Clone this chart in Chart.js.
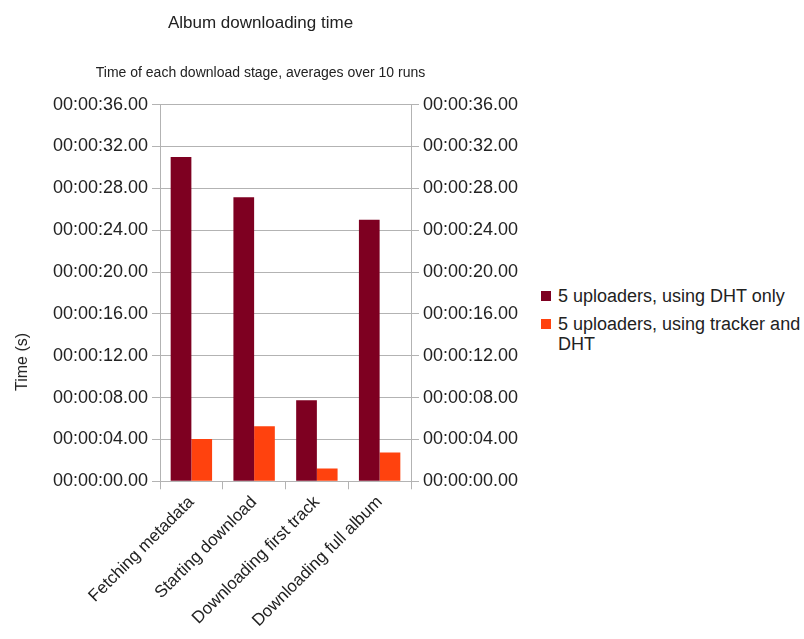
<!DOCTYPE html>
<html>
<head>
<meta charset="utf-8">
<script src="https://cdn.jsdelivr.net/npm/chart.js@4"></script>
<style>
  body { margin: 0; background: #fff; font-family: "Liberation Sans", Arial, sans-serif; }
  #wrap { position: relative; width: 804px; height: 639px; }
  #chart { position: absolute; left: 0; top: 0; }
  #ytitle { position: absolute; left: 22px; top: 362px; transform: translate(-50%, -50%) rotate(-90deg);
            font-size: 16px; color: #222; white-space: nowrap; }
  #legend { position: absolute; left: 541px; top: 286px; width: 263px; font-size: 18px; color: #222; }
  .item { position: relative; padding-left: 17px; line-height: 20px; margin-bottom: 8px; }
  .box { position: absolute; left: 0; top: 5px; width: 10px; height: 10px; }
</style>
</head>
<body>
<div id="wrap">
  <canvas id="chart" width="521" height="639"></canvas>
  <div id="ytitle">Time (s)</div>
  <div id="legend"></div>
</div>
<script>
var categories = ["Fetching metadata", "Starting download", "Downloading first track", "Downloading full album"];
var seriesNames = ["5 uploaders, using DHT only", "5 uploaders, using tracker and DHT"];
var dhtOnly = [31.0, 27.15, 7.75, 25.0];
var trackerDht = [4.05, 5.27, 1.22, 2.75];
var colors = ["#7e0021", "#ff420e"];

function fmt(v) {
    var s = Math.round(v);
    return "00:00:" + (s < 10 ? "0" + s : s) + ".00";
}

var gridColor = "#b3b3b3";
var yFont = { family: "'Liberation Sans', Arial", size: 18 };
var xFont = { family: "'Liberation Sans', Arial", size: 17 };

var ctx = document.getElementById("chart").getContext("2d");
var myChart = new Chart(ctx, {
    type: "bar",
    data: {
        labels: categories,
        datasets: [
            { label: seriesNames[0], data: dhtOnly, backgroundColor: colors[0], yAxisID: "y" },
            { label: seriesNames[1], data: trackerDht, backgroundColor: colors[1], yAxisID: "y" },
        ],
    },
    options: {
        responsive: false,
        devicePixelRatio: 1,
        animation: false,
        categoryPercentage: 0.66,
        barPercentage: 1,
        layout: { padding: { left: 0, right: 0, bottom: 5 } },
        scales: {
            x: {
                grid: { drawOnChartArea: false, color: gridColor, tickLength: 8, offset: true },
                border: { color: gridColor },
                ticks: { color: "#222", font: xFont, minRotation: 45, maxRotation: 45, autoSkip: false },
            },
            y: {
                position: "left",
                min: 0,
                max: 36,
                afterFit: function (scale) { scale.width = 160; },
                grid: { color: gridColor, tickLength: 8 },
                border: { color: gridColor },
                ticks: { stepSize: 4, color: "#222", font: yFont, padding: 4, callback: fmt },
            },
            y2: {
                position: "right",
                min: 0,
                max: 36,
                afterFit: function (scale) { scale.width = 110; },
                grid: { drawOnChartArea: false, color: gridColor, tickLength: 8 },
                border: { color: gridColor },
                ticks: { stepSize: 4, color: "#222", font: yFont, padding: 4, callback: fmt },
            },
        },
        plugins: {
            legend: { display: false },
            tooltip: { enabled: false },
            title: {
                display: true,
                text: "Album downloading time",
                color: "#222",
                font: { family: "'Liberation Sans', Arial", size: 17, weight: "normal" },
                padding: { top: 13, bottom: 31 },
            },
            subtitle: {
                display: true,
                text: "Time of each download stage, averages over 10 runs",
                color: "#222",
                font: { family: "'Liberation Sans', Arial", size: 14 },
                padding: { top: 0, bottom: 23.4 },
            },
        },
    },
});

var legend = document.getElementById("legend");
seriesNames.forEach(function (name, i) {
    var item = document.createElement("div");
    item.className = "item";
    var box = document.createElement("span");
    box.className = "box";
    box.style.background = colors[i];
    item.appendChild(box);
    item.appendChild(document.createTextNode(name));
    legend.appendChild(item);
});
</script>
</body>
</html>
